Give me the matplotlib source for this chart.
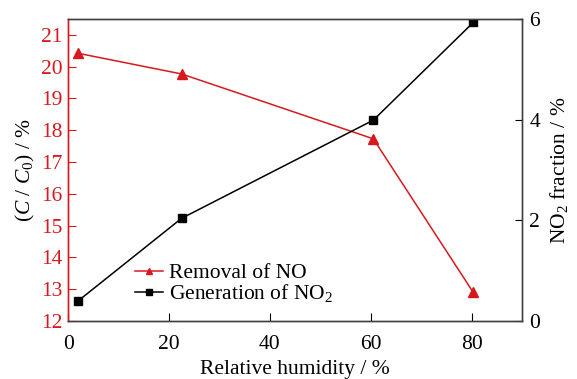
import matplotlib
matplotlib.use('Agg')
import matplotlib.pyplot as plt

plt.rcParams['font.family'] = ['Liberation Serif', 'DejaVu Serif']
plt.rcParams['mathtext.fontset'] = 'custom'
plt.rcParams['mathtext.rm'] = 'Liberation Serif'
plt.rcParams['mathtext.it'] = 'Liberation Serif:italic'

# 数据
humidity = [2, 22.5, 60.5, 80.3]
removal_no = [20.42, 19.77, 17.73, 12.9]
no2_fraction = [0.40, 2.04, 3.99, 5.93]

red = '#d7191f'
fs = 15.5

fig = plt.figure(figsize=(5.77, 3.79), dpi=100)
ax = fig.add_axes([0.118, 0.153, 0.787, 0.797])
ax2 = ax.twinx()

l1, = ax.plot(humidity, removal_no, '-^', color=red, lw=1.1, ms=7.5,
              label='Removal of NO')
l2, = ax2.plot(humidity, no2_fraction, '-s', color='black', lw=1.1, ms=6,
               label='Generation of NO$_2$')

ax.set_xlim(0, 90)
ax.set_ylim(12, 21.5)
ax2.set_ylim(0, 6)
ax.set_xticks([0, 20, 40, 60, 80])
ax.set_yticks(range(12, 22))
ax2.set_yticks([0, 2, 4, 6])

ax.set_xlabel('Relative humidity / %', fontsize=fs, labelpad=4.5)
ax.set_ylabel('($C$ / $C_0$) / %', fontsize=fs, labelpad=3)
ax2.set_ylabel('NO$_2$ fraction / %', fontsize=fs, labelpad=6)

ax.tick_params(axis='x', direction='in', length=6, labelsize=fs, colors='black', pad=10)
ax.tick_params(axis='y', direction='in', length=6, labelsize=fs, colors=red, pad=4)
ax2.tick_params(axis='y', direction='in', length=5, labelsize=fs, colors='black', pad=5)

for a in (ax, ax2):
    for s in a.spines.values():
        s.set_color('#404040')
        s.set_linewidth(1.0)
ax2.spines['left'].set_color(red)
ax.spines['left'].set_color(red)

ax.legend([l1, l2], [l1.get_label(), l2.get_label()], loc='upper left',
          bbox_to_anchor=(0.124, 0.227), frameon=False, fontsize=fs,
          handlelength=1.3, handletextpad=0.25, labelspacing=-0.05,
          borderpad=0.0, markerscale=0.65)

fig.savefig('out.png', dpi=100)
